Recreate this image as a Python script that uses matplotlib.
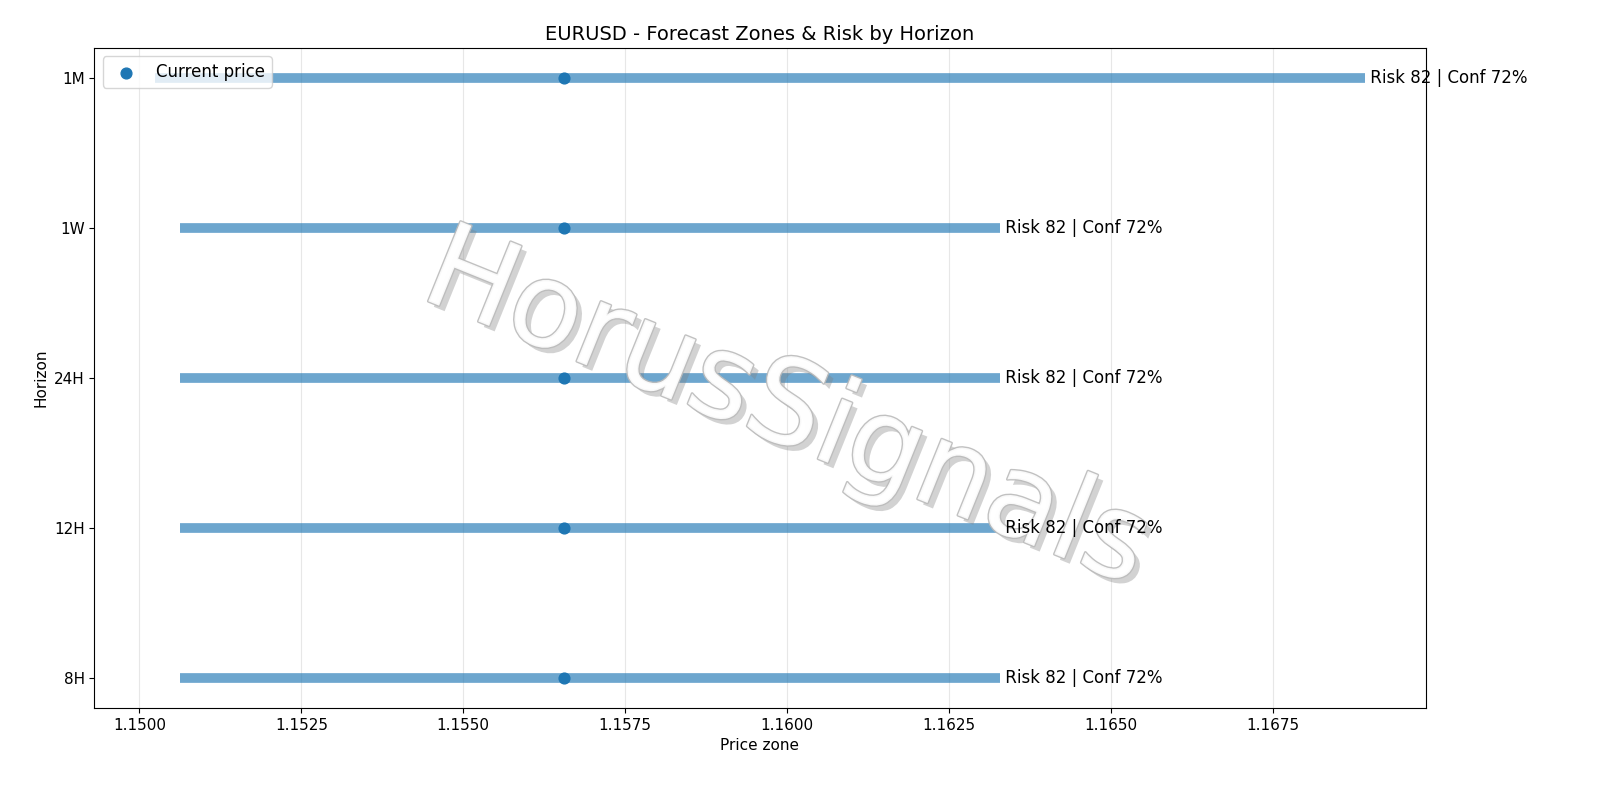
import matplotlib
matplotlib.use("Agg")
import matplotlib.pyplot as plt
import matplotlib.patheffects as pe

horizons = ["8H", "12H", "24H", "1W", "1M"]
lows = [1.15063, 1.15063, 1.15063, 1.15063, 1.15024]
highs = [1.16329, 1.16329, 1.16329, 1.16329, 1.16892]
current = [1.15656, 1.15656, 1.15656, 1.15656, 1.15656]
labels = ["Risk 82 | Conf 72%"] * 5

fig, ax = plt.subplots(figsize=(16, 8), dpi=100)
for i, (lo, hi) in enumerate(zip(lows, highs)):
    ax.hlines(i, lo, hi, color="#1f77b4", alpha=0.65, linewidth=7)
    ax.text(hi, i, " " + labels[i], va="center", ha="left", fontsize=12)
ax.scatter(current, range(len(horizons)), color="#1f77b4", s=60, zorder=3, label="Current price")
ax.set_yticks(range(len(horizons)))
ax.set_yticklabels(horizons, fontsize=11)
ax.tick_params(axis="x", labelsize=11)
ax.xaxis.set_major_formatter(matplotlib.ticker.FormatStrFormatter("%.4f"))
ax.grid(axis="x", alpha=0.3)
ax.set_xlabel("Price zone", fontsize=11)
ax.set_ylabel("Horizon", fontsize=11)
ax.set_title("EURUSD - Forecast Zones & Risk by Horizon", fontsize=14)
ax.legend(loc="upper left", fontsize=12)
ax.text(0.52, 0.45, "HorusSignals", transform=ax.transAxes, fontsize=85, rotation=-22,
        ha="center", va="center", color="white", alpha=0.9, zorder=2,
        path_effects=[pe.withSimplePatchShadow(offset=(4, -4), shadow_rgbFace="gray", alpha=0.35),
                      pe.Stroke(linewidth=2, foreground="#bbbbbb"), pe.Normal()])
fig.subplots_adjust(left=0.059, right=0.891, top=0.94, bottom=0.115)
fig.savefig("out.png")
